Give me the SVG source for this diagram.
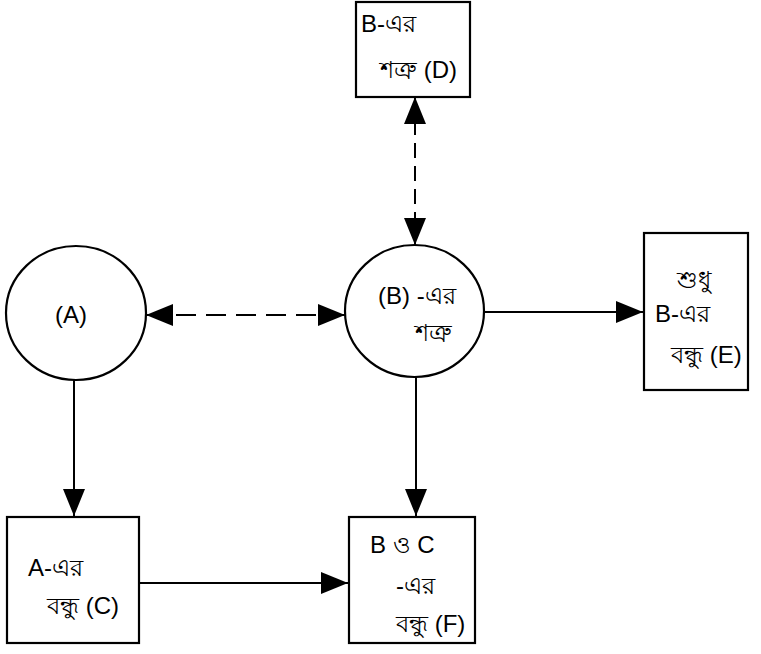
<svg xmlns="http://www.w3.org/2000/svg" width="761" height="654" viewBox="0 0 761 654">
<style>
.shape{fill:#fff;stroke:#000;stroke-width:2.2}
.ln{fill:none;stroke:#000;stroke-width:2}
.dash{stroke-dasharray:20 10}
.vdash{stroke-dasharray:15 8}
text{font-family:"Liberation Sans","Noto Sans",sans-serif;font-size:24px;fill:#000}
</style>
<defs>
<marker id="ah" viewBox="0 0 27 22" refX="27" refY="11" markerWidth="27" markerHeight="22" markerUnits="userSpaceOnUse" orient="auto-start-reverse">
<path d="M0,0 L27,11 L0,22 Z" fill="#000"/>
</marker>
</defs>
<g id="connectors">
<line class="ln dash" x1="146" y1="315" x2="345" y2="315" marker-start="url(#ah)" marker-end="url(#ah)"/>
<line class="ln vdash" x1="415" y1="97" x2="415" y2="245" marker-start="url(#ah)" marker-end="url(#ah)"/>
<line class="ln" x1="484" y1="312" x2="643" y2="312" marker-end="url(#ah)"/>
<line class="ln" x1="74" y1="380" x2="74" y2="516" marker-end="url(#ah)"/>
<line class="ln" x1="416" y1="377" x2="416" y2="516" marker-end="url(#ah)"/>
<line class="ln" x1="139" y1="583" x2="348" y2="583" marker-end="url(#ah)"/>
</g>
<g id="nodeA">
<ellipse class="shape" cx="76" cy="313" rx="70" ry="67"/>
<text x="55" y="323">(A)</text>
</g>
<g id="nodeB">
<ellipse class="shape" cx="414.5" cy="311" rx="69.5" ry="66"/>
<text x="378" y="304">(B) -এর</text>
<text x="415" y="341">শত্রু</text>
</g>
<g id="nodeD">
<rect class="shape" x="356" y="2" width="114" height="95"/>
<text x="361" y="32">B-এর</text>
<text x="380" y="78">শত্রু (D)</text>
</g>
<g id="nodeE">
<rect class="shape" x="644" y="233" width="104" height="157"/>
<text x="677" y="288">শুধু</text>
<text x="655" y="322">B-এর</text>
<text x="671" y="363">বন্ধু (E)</text>
</g>
<g id="nodeC">
<rect class="shape" x="7" y="517" width="132" height="126"/>
<text x="28" y="576">A-এর</text>
<text x="47" y="614">বন্ধু (C)</text>
</g>
<g id="nodeF">
<rect class="shape" x="349" y="517" width="126" height="126"/>
<text x="370" y="553">B ও C</text>
<text x="396" y="594">-এর</text>
<text x="396" y="632">বন্ধু (F)</text>
</g>
</svg>
